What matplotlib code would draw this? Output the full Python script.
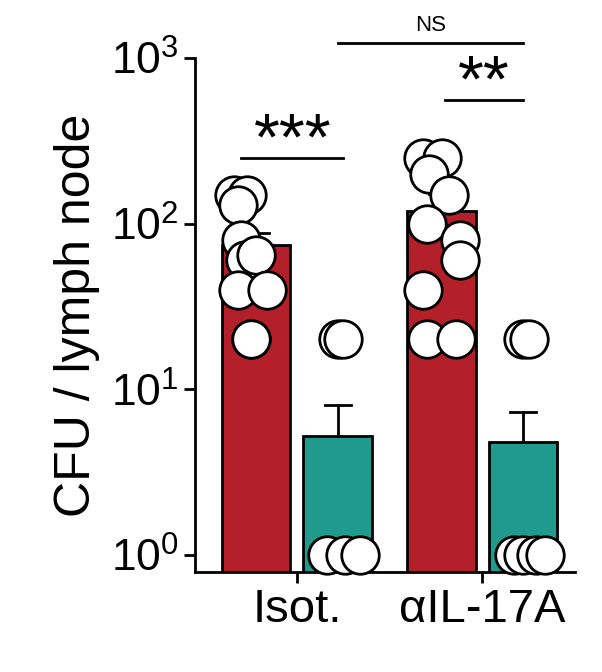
import matplotlib
matplotlib.use("Agg")
import matplotlib.pyplot as plt
import numpy as np

plt.rcParams['font.family'] = ['Liberation Sans', 'DejaVu Sans']

groups = ["Isot.", "\u03b1IL-17A"]
red_means = [74, 120]
red_err = [88, 152]
teal_means = [5.2, 4.8]
teal_err = [8.0, 7.3]
red_pts = [[150, 150, 130, 80, 60, 65, 40, 40, 20, 20],
           [250, 250, 200, 150, 100, 80, 60, 40, 20, 20]]
teal_pts = [[20, 20, 1, 1, 1], [20, 20, 1, 1, 1, 1]]
red_jit = [[-0.12, -0.05, -0.1, -0.08, -0.06, 0.0, -0.1, 0.06, -0.03, -0.03],
           [-0.1, 0.0, -0.07, 0.04, -0.08, 0.1, 0.1, -0.1, -0.08, 0.08]]
teal_jit = [[0.0, 0.03, -0.06, 0.04, 0.12], [0.0, 0.03, -0.05, 0.0, 0.07, 0.12]]

fig = plt.figure(figsize=(6.02, 6.72), dpi=100)
ax = fig.add_axes([195/602, 1-572/672, 380/602, (572-58)/672])
ax.set_yscale("log")
ax.set_ylim(0.79, 1000)
ax.set_xlim(-0.55, 1.5)
w = 0.37
red, teal = "#b3202a", "#1f9a8d"
for i in range(2):
    xr, xt = i - 0.22, i + 0.22
    ax.bar(xr, red_means[i], width=w, color=red, edgecolor="black", lw=2, bottom=0.01, zorder=1)
    ax.bar(xt, teal_means[i], width=w, color=teal, edgecolor="black", lw=2, bottom=0.01, zorder=1)
    for x, m, e in [(xr, red_means[i], red_err[i]), (xt, teal_means[i], teal_err[i])]:
        ax.plot([x, x], [m, e], color="black", lw=2, zorder=2)
        ax.plot([x - 0.07, x + 0.07], [e, e], color="black", lw=2, zorder=2)
    for v, j in zip(red_pts[i], red_jit[i]):
        ax.plot(xr + j, v, "o", ms=27, mfc="white", mec="black", mew=2, zorder=3, clip_on=False)
    for v, j in zip(teal_pts[i], teal_jit[i]):
        ax.plot(xt + j, v, "o", ms=27, mfc="white", mec="black", mew=2, zorder=3, clip_on=False)

ax.set_xticks([0, 1])
ax.set_xticklabels(groups, fontsize=34)
ax.set_yticks([1, 10, 100, 1000])
ax.set_yticklabels([r"$\mathregular{10^0}$", r"$\mathregular{10^1}$", r"$\mathregular{10^2}$", r"$\mathregular{10^3}$"], fontsize=32)
ax.minorticks_off()
ax.tick_params(width=2, length=8)
for s in ["top", "right"]:
    ax.spines[s].set_visible(False)
for s in ["left", "bottom"]:
    ax.spines[s].set_linewidth(2)
ax.set_ylabel("CFU / lymph node", fontsize=36, labelpad=8)

def bracket(x1, x2, y, txt, fs, dy):
    ax.plot([x1, x2], [y, y], color="black", lw=2, clip_on=False)
    ax.text((x1 + x2) / 2, y * dy, txt, ha="center", va="bottom", fontsize=fs)

bracket(-0.22 + 0.05 - 0.13, 0.25, 250, "***", 48, 0.8)
bracket(0.8, 1.22, 560, "**", 48, 0.8)
bracket(0.22, 1.22, 1230, "NS", 16, 1.1)
fig.savefig("out.png", dpi=100)
